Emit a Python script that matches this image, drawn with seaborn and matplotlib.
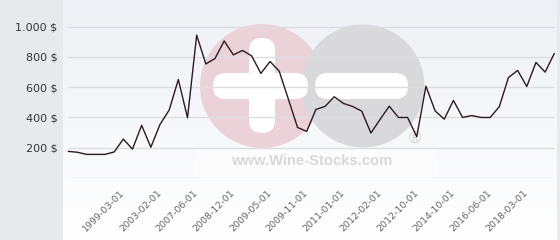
import numpy as np
import pandas as pd
import matplotlib
matplotlib.use("Agg")
import matplotlib.pyplot as plt
from matplotlib.patches import Circle, FancyBboxPatch, Rectangle
import seaborn as sns

# ---- data ----
prices = [176, 170, 156, 156, 156, 172, 257, 191, 348, 203,
          354, 449, 651, 398, 944, 754, 790, 906, 814, 843,
          807, 691, 770, 706, 521, 334, 308, 453, 473, 537,
          493, 473, 442, 297, 387, 475, 400, 400, 273, 607,
          444, 389, 513, 400, 413, 400, 400, 471, 664, 711,
          605, 764, 700, 823]
tick_labels = ["1999-03-01", "2003-02-01", "2007-06-01", "2008-12-01",
               "2009-05-01", "2009-11-01", "2011-01-01", "2012-02-01",
               "2012-10-01", "2014-10-01", "2016-06-01", "2018-03-01"]
y_ticks = [200, 400, 600, 800, 1000]
y_tick_labels = ["200 $", "400 $", "600 $", "800 $", "1.000 $"]

df = pd.DataFrame({"idx": np.arange(len(prices)), "price": prices})

sns.set_theme(style="white")
plt.rcParams['font.family'] = ['DejaVu Sans']

W, H = 560, 240
fig = plt.figure(figsize=(W / 100, H / 100), dpi=100, facecolor="#e6eaed")

# background panel (pixel coordinates)
px0, px1 = 63, 557
bg = fig.add_axes([px0 / W, 0, (px1 - px0) / W, 1], zorder=0)
grad = np.linspace(0, 1, 256).reshape(-1, 1)
c_top = np.array([0xee, 0xf0, 0xf5]) / 255
c_bot = np.array([0xff, 0xff, 0xff]) / 255
img = c_top[None, None, :] * (1 - grad[:, :, None]) + c_bot[None, None, :] * grad[:, :, None]
bg.imshow(img, extent=(px0, px1, H, 0), aspect="auto", zorder=0)
bg.set_xlim(px0, px1)
bg.set_ylim(H, 0)
bg.axis("off")

# watermark logo
pink = "#ebd2d9"
grey = "#d9d9db"
bg.add_patch(Circle((262, 86), 62, color=pink, zorder=1, lw=0))
bg.add_patch(Circle((363, 86), 61.5, color=grey, zorder=2, lw=0))
bg.add_patch(FancyBboxPatch((249 + 13, 38 + 13), 0.1, 95 - 26,
                            boxstyle="round,pad=13", color="white", zorder=3, lw=0))
bg.add_patch(FancyBboxPatch((213 + 13, 73 + 13), 95 - 26, 0.1,
                            boxstyle="round,pad=13", color="white", zorder=3, lw=0))
bg.add_patch(FancyBboxPatch((315 + 13, 73 + 13), 93 - 26, 0.1,
                            boxstyle="round,pad=13", color="white", zorder=4, lw=0))
bg.add_patch(Rectangle((195, 149), 243, 28, color="white", alpha=0.5, zorder=4, lw=0))
bg.text(312, 161, "www.Wine-Stocks.com", ha="center", va="center",
        fontsize=10.6, fontweight="bold", color="#d8d8d8",
        family=["Liberation Sans", "DejaVu Sans"], zorder=5)
bg.text(415, 139, "\u00ae", ha="center", va="center", fontsize=12,
        color="#d0d0d0", family=["Liberation Sans", "DejaVu Sans"], zorder=5)

# main axes: x data 0..53 maps to px 68.3..554.3; y 0 at px 178, top at px 0
n = len(prices)
step = (554.3 - 68.3) / (n - 1)
xl = -(68.3 - px0) / step
xr = (n - 1) + (px1 - 554.3) / step
ytop = 178 / 0.1513
ax = fig.add_axes([px0 / W, (H - 178) / H, (px1 - px0) / W, 178 / H], zorder=2)
ax.patch.set_alpha(0)
ax.set_xlim(xl, xr)
ax.set_ylim(0, ytop)

ax.hlines([0] + y_ticks, 0, n - 1, colors="#dcdde0", lw=1.0, zorder=1)
sns.lineplot(data=df, x="idx", y="price", ax=ax, color="#2b1a22", lw=1.0, zorder=3)

ax.set_yticks(y_ticks)
ax.set_yticklabels(y_tick_labels, fontsize=8, color="#333333")
ticks_pos = [6 + 4 * k for k in range(len(tick_labels))]
ax.set_xticks(ticks_pos)
ax.set_xticklabels(tick_labels, rotation=45, ha="right", va="center",
                   rotation_mode="anchor", fontsize=6.8, color="#666666")
for lab in ax.get_xticklabels():
    lab.set_x(lab.get_position()[0])
ax.tick_params(axis="x", length=0, pad=10)
ax.tick_params(axis="y", length=0, pad=4)
ax.set_xlabel("")
ax.set_ylabel("")
for s in ax.spines.values():
    s.set_visible(False)

fig.savefig("out.png", dpi=100, facecolor=fig.get_facecolor())
